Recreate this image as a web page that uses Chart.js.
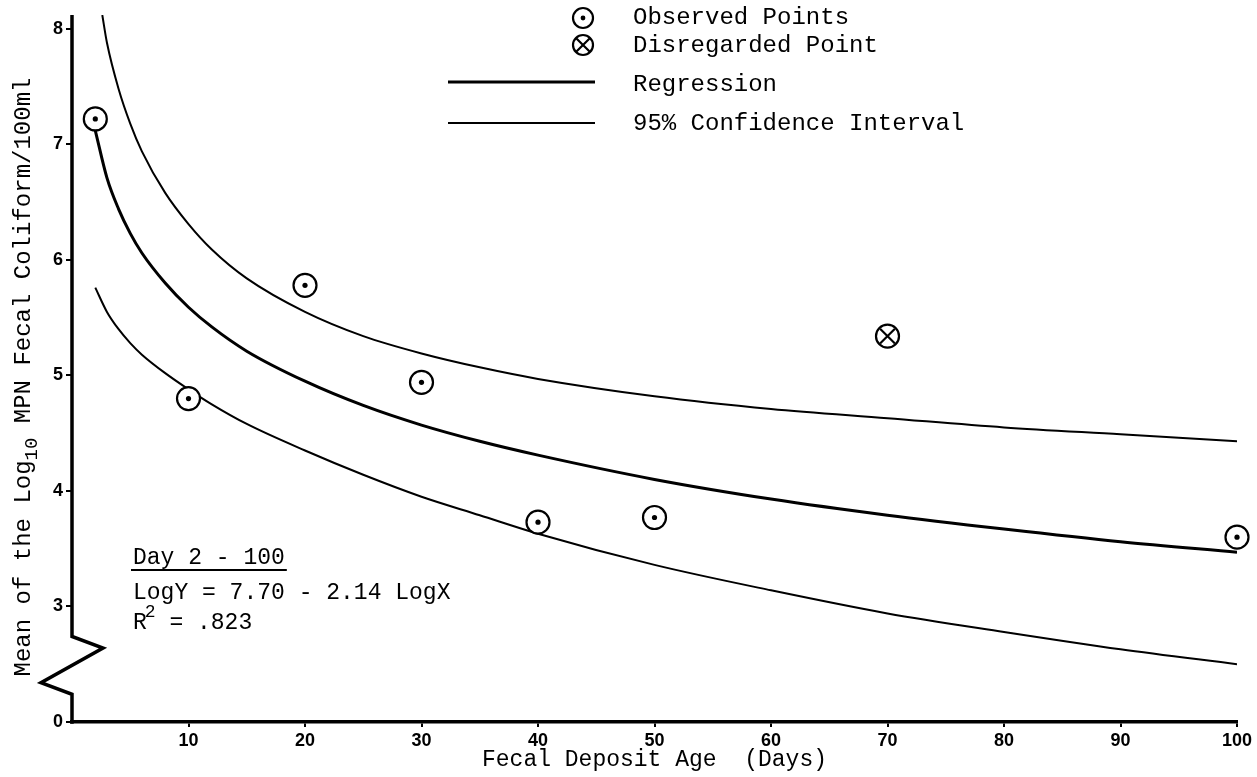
<!DOCTYPE html>
<html>
<head>
<meta charset="utf-8">
<script src="https://cdn.jsdelivr.net/npm/chart.js@4.4.1/dist/chart.umd.min.js"></script>
<style>
  html, body { margin: 0; padding: 0; background: #fff; }
  canvas { display: block; }
</style>
</head>
<body>
<canvas id="chart" width="1257" height="777"></canvas>
<script>
// Mean log10 MPN fecal coliform per 100 ml by fecal deposit age (days)
const observedDays = [2, 10, 20, 30, 40, 50, 100];
const observedMeans = [7.22, 4.80, 5.78, 4.94, 3.73, 3.77, 3.60];
const disregardedDays = [70];
const disregardedMeans = [5.34];

// Fitted curve and its 95% confidence band
const curveDays = [2, 3, 4, 5, 6, 8, 10, 12, 15, 20, 25, 30, 35, 40, 50, 60, 70, 80, 90, 100];
const regressionValues = [7.12, 6.71, 6.44, 6.23, 6.06, 5.80, 5.59, 5.42, 5.21, 4.95, 4.74, 4.57, 4.43, 4.31, 4.10, 3.93, 3.79, 3.67, 3.56, 3.47];
const upperDays = [2.6, 3, 4, 5, 6, 8, 10, 12, 15, 20, 25, 30, 35, 40, 50, 60, 70, 80, 90, 100];
const upperValues = [8.12, 7.88, 7.48, 7.18, 6.94, 6.58, 6.31, 6.09, 5.84, 5.55, 5.34, 5.19, 5.07, 4.97, 4.82, 4.71, 4.63, 4.55, 4.49, 4.43];
const lowerValues = [5.76, 5.55, 5.40, 5.28, 5.18, 5.02, 4.88, 4.75, 4.58, 4.35, 4.14, 3.95, 3.79, 3.63, 3.36, 3.14, 2.94, 2.78, 2.63, 2.50];

// Axis ticks; the bottom of the value axis sits below a scale break and reads 0
const xTickValues = [10, 20, 30, 40, 50, 60, 70, 80, 90, 100];
const yTickValues = [2, 3, 4, 5, 6, 7, 8];
const yTickLabels = ['0', '3', '4', '5', '6', '7', '8'];

const xTitle = 'Fecal Deposit Age  (Days)';
const yTitleParts = ['Mean of the Log', '10', ' MPN Fecal Coliform/100ml'];
const noteLines = ['Day 2 - 100', 'LogY = 7.70 - 2.14 LogX', 'R', '2', ' = .823'];

const MONO = '"Liberation Mono", "DejaVu Sans Mono", monospace';
const SANS = '"Liberation Sans", Arial, sans-serif';

const pts = (xs, ys) => xs.map((x, i) => ({ x, y: ys[i] }));

function drawRing(ctx, cx, cy, r) {
  ctx.beginPath();
  ctx.arc(cx, cy, r, 0, Math.PI * 2);
  ctx.fillStyle = '#fff';
  ctx.fill();
  ctx.lineWidth = 2.2;
  ctx.strokeStyle = '#000';
  ctx.stroke();
}

const decorations = {
  id: 'decorations',
  afterDraw(chart) {
    const { ctx, chartArea, scales } = chart;
    const y = scales.y;
    const ax = chartArea.left;
    ctx.save();

    // value axis line with the zig-zag scale break
    ctx.strokeStyle = '#000';
    ctx.lineWidth = 3.5;
    ctx.lineJoin = 'miter';
    ctx.lineCap = 'butt';
    ctx.beginPath();
    ctx.moveTo(ax, chartArea.top);
    ctx.lineTo(ax, y.getPixelForValue(2.74));
    ctx.lineTo(ax + 31, y.getPixelForValue(2.64));
    ctx.lineTo(ax - 31, y.getPixelForValue(2.34));
    ctx.lineTo(ax, y.getPixelForValue(2.24));
    ctx.lineTo(ax, y.getPixelForValue(2) + 1.75);
    ctx.stroke();

    // rotated value-axis title with subscript
    ctx.fillStyle = '#000';
    ctx.textBaseline = 'alphabetic';
    ctx.textAlign = 'left';
    const mainFont = '24px ' + MONO;
    const subFont = '19px ' + MONO;
    ctx.font = mainFont;
    const w0 = ctx.measureText(yTitleParts[0]).width;
    const w2 = ctx.measureText(yTitleParts[2]).width;
    ctx.font = subFont;
    const w1 = ctx.measureText(yTitleParts[1]).width;
    const total = w0 + w1 + w2;
    ctx.save();
    ctx.translate(30, 377);
    ctx.rotate(-Math.PI / 2);
    let tx = -total / 2;
    ctx.font = mainFont;
    ctx.fillText(yTitleParts[0], tx, 0);
    tx += w0;
    ctx.font = subFont;
    ctx.fillText(yTitleParts[1], tx, 7);
    tx += w1;
    ctx.font = mainFont;
    ctx.fillText(yTitleParts[2], tx, 0);
    ctx.restore();

    // regression note
    ctx.font = '23px ' + MONO;
    ctx.textBaseline = 'middle';
    const nx = 133;
    ctx.fillText(noteLines[0], nx, 558);
    const uw = ctx.measureText(noteLines[0]).width;
    ctx.lineWidth = 2;
    ctx.beginPath();
    ctx.moveTo(nx - 2, 570);
    ctx.lineTo(nx + uw + 2, 570);
    ctx.stroke();
    ctx.fillText(noteLines[1], nx, 593);
    ctx.fillText(noteLines[2], nx, 623);
    const rw = ctx.measureText(noteLines[2]).width;
    ctx.font = '18px ' + MONO;
    ctx.fillText(noteLines[3], nx + rw - 2, 612);
    const sw = ctx.measureText(noteLines[3]).width;
    ctx.font = '23px ' + MONO;
    ctx.fillText(noteLines[4], nx + rw - 2 + sw, 623);

    // key
    const ds = chart.data.datasets;
    const mx = 583, lx0 = 448, lx1 = 595, textX = 633;
    ctx.font = '24px ' + MONO;
    ctx.textBaseline = 'middle';
    // observed
    drawRing(ctx, mx, 18, 10);
    ctx.beginPath(); ctx.arc(mx, 18, 2.4, 0, Math.PI * 2); ctx.fillStyle = '#000'; ctx.fill();
    ctx.fillText(ds[0].label, textX, 18);
    // disregarded
    drawRing(ctx, mx, 45, 10);
    ctx.beginPath();
    const d = 10 * Math.SQRT1_2;
    ctx.moveTo(mx - d, 45 - d); ctx.lineTo(mx + d, 45 + d);
    ctx.moveTo(mx + d, 45 - d); ctx.lineTo(mx - d, 45 + d);
    ctx.stroke();
    ctx.fillStyle = '#000';
    ctx.fillText(ds[2].label, textX, 46);
    // regression
    ctx.lineWidth = ds[4].borderWidth;
    ctx.beginPath(); ctx.moveTo(lx0, 82); ctx.lineTo(lx1, 82); ctx.stroke();
    ctx.fillText(ds[4].label, textX, 85);
    // confidence interval
    ctx.lineWidth = ds[5].borderWidth;
    ctx.beginPath(); ctx.moveTo(lx0, 123); ctx.lineTo(lx1, 123); ctx.stroke();
    ctx.fillText(ds[5].label, textX, 124);

    ctx.restore();
  }
};

new Chart(document.getElementById('chart'), {
  type: 'line',
  data: {
    datasets: [
      {
        label: 'Observed Points',
        data: pts(observedDays, observedMeans),
        showLine: false,
        clip: false,
        pointStyle: 'circle',
        pointRadius: 11.5,
        pointBorderWidth: 2.2,
        pointBorderColor: '#000',
        pointBackgroundColor: '#fff',
        order: 1
      },
      {
        label: 'observed centres',
        data: pts(observedDays, observedMeans),
        showLine: false,
        clip: false,
        pointStyle: 'circle',
        pointRadius: 2.6,
        pointBorderWidth: 0,
        pointBackgroundColor: '#000',
        order: 0
      },
      {
        label: 'Disregarded Point',
        data: pts(disregardedDays, disregardedMeans),
        showLine: false,
        clip: false,
        pointStyle: 'circle',
        pointRadius: 11.5,
        pointBorderWidth: 2.2,
        pointBorderColor: '#000',
        pointBackgroundColor: '#fff',
        order: 1
      },
      {
        label: 'disregarded cross',
        data: pts(disregardedDays, disregardedMeans),
        showLine: false,
        clip: false,
        pointStyle: 'crossRot',
        pointRadius: 10.5,
        pointBorderWidth: 2.2,
        pointBorderColor: '#000',
        order: 0
      },
      {
        label: 'Regression',
        data: pts(curveDays, regressionValues),
        borderColor: '#000',
        borderWidth: 3,
        pointRadius: 0,
        cubicInterpolationMode: 'monotone',
        fill: false,
        order: 5
      },
      {
        label: '95% Confidence Interval',
        data: pts(upperDays, upperValues),
        borderColor: '#000',
        borderWidth: 2,
        pointRadius: 0,
        cubicInterpolationMode: 'monotone',
        fill: false,
        order: 5
      },
      {
        label: '95% Confidence Interval (lower)',
        data: pts(curveDays, lowerValues),
        borderColor: '#000',
        borderWidth: 2,
        pointRadius: 0,
        cubicInterpolationMode: 'monotone',
        fill: false,
        order: 5
      }
    ]
  },
  options: {
    responsive: false,
    animation: false,
    devicePixelRatio: 1,
    events: [],
    layout: { padding: { top: 15, right: 20, left: 0, bottom: 0 } },
    plugins: { legend: { display: false }, tooltip: { enabled: false } },
    scales: {
      x: {
        type: 'linear',
        min: 0,
        max: 100,
        afterFit: (s) => { s.height = 55; },
        afterBuildTicks: (s) => { s.ticks = xTickValues.map(v => ({ value: v })); },
        grid: { display: true, drawOnChartArea: false, drawTicks: true, tickLength: 5, color: '#000', lineWidth: 2 },
        border: { display: true, color: '#000', width: 3.5 },
        ticks: {
          color: '#000',
          padding: 3,
          maxRotation: 0,
          autoSkip: false,
          font: { family: SANS, size: 18, weight: 'bold' }
        },
        title: {
          display: true,
          text: xTitle,
          color: '#000',
          font: { family: MONO, size: 23, lineHeight: 1.2 },
          padding: { top: 0, bottom: 3 }
        }
      },
      y: {
        type: 'linear',
        min: 2,
        max: 8.12,
        afterFit: (s) => { s.width = 72; },
        afterBuildTicks: (s) => { s.ticks = yTickValues.map(v => ({ value: v })); },
        grid: { display: true, drawOnChartArea: false, drawTicks: true, tickLength: 6, color: '#000', lineWidth: 2 },
        border: { display: false },
        ticks: {
          color: '#000',
          padding: 3,
          autoSkip: false,
          font: { family: SANS, size: 18, weight: 'bold' },
          callback: (v) => yTickLabels[yTickValues.indexOf(v)]
        }
      }
    }
  },
  plugins: [decorations]
});
</script>
</body>
</html>
